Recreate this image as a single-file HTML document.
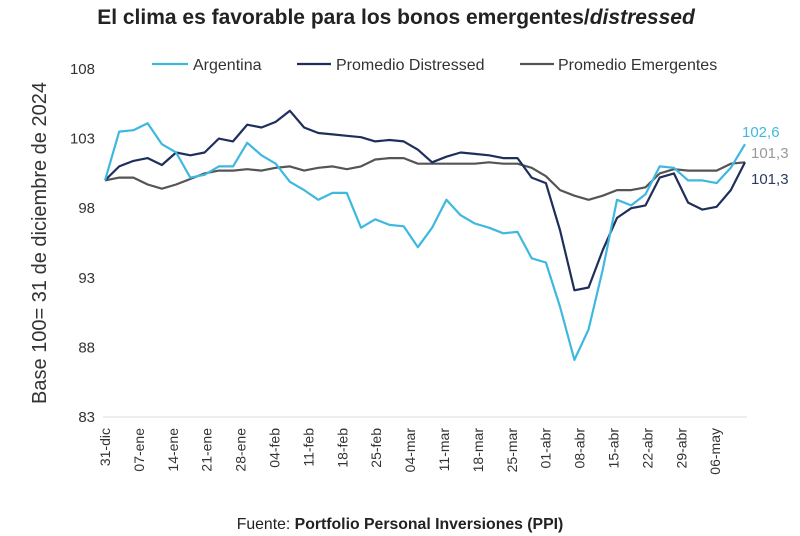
<!DOCTYPE html>
<html><head><meta charset="utf-8">
<style>
html,body{margin:0;padding:0;background:#fff;}
svg{display:block;font-family:"Liberation Sans",sans-serif;}
</style></head>
<body>
<svg id="chart" width="800" height="536" viewBox="0 0 800 536">
  <text x="396" y="24" text-anchor="middle" font-size="21" font-weight="bold" fill="#222">El clima es favorable para los bonos emergentes/<tspan font-style="italic">distressed</tspan></text>
  <g>
    <g><line x1="152" y1="64" x2="188" y2="64" stroke="#3fb8e0" stroke-width="2.2"/><text x="193" y="70" font-size="16" fill="#333">Argentina</text></g>
    <g><line x1="297" y1="64" x2="331" y2="64" stroke="#1f2f5c" stroke-width="2.2"/><text x="336" y="70" font-size="16" fill="#333">Promedio Distressed</text></g>
    <g><line x1="520" y1="64" x2="554" y2="64" stroke="#555" stroke-width="2.2"/><text x="558" y="70" font-size="16" fill="#333">Promedio Emergentes</text></g>
  </g>
  <text transform="translate(46,243) rotate(-90)" text-anchor="middle" font-size="20" fill="#333">Base 100= 31 de diciembre de 2024</text>
  <line x1="103" y1="417" x2="747" y2="417" stroke="#ddd" stroke-width="1"/>
  <g id="yticks"></g>
  <g id="xticks"></g>
  <g id="series"></g>
  <g>
    <text x="742" y="137" font-size="15" fill="#3fb8e0">102,6</text>
    <text x="751" y="158" font-size="15" fill="#999">101,3</text>
    <text x="751" y="184" font-size="15" fill="#2a3a60">101,3</text>
  </g>
  <text x="400" y="529" text-anchor="middle" font-size="15.8" fill="#222">Fuente: <tspan font-weight="bold">Portfolio Personal Inversiones (PPI)</tspan></text>
</svg>
<script>
const yTicks = [83, 88, 93, 98, 103, 108];
const xLabels = ["31-dic","07-ene","14-ene","21-ene","28-ene","04-feb","11-feb","18-feb","25-feb","04-mar","11-mar","18-mar","25-mar","01-abr","08-abr","15-abr","22-abr","29-abr","06-may"];
const argentina = [100.0,103.5,103.6,104.1,102.6,102.0,100.2,100.4,101.0,101.0,102.7,101.8,101.2,99.9,99.3,98.6,99.1,99.1,96.6,97.2,96.8,96.7,95.2,96.6,98.6,97.5,96.9,96.6,96.2,96.3,94.4,94.1,90.9,87.1,89.3,93.6,98.6,98.2,99.0,101.0,100.9,100.0,100.0,99.8,100.9,102.6];
const distressed = [100.0,101.0,101.4,101.6,101.1,102.0,101.8,102.0,103.0,102.8,104.0,103.8,104.2,105.0,103.8,103.4,103.3,103.2,103.1,102.8,102.9,102.8,102.2,101.3,101.7,102.0,101.9,101.8,101.6,101.6,100.2,99.8,96.4,92.1,92.3,95.0,97.3,98.0,98.2,100.2,100.5,98.4,97.9,98.1,99.3,101.3];
const emergentes = [100.0,100.2,100.2,99.7,99.4,99.7,100.1,100.5,100.7,100.7,100.8,100.7,100.9,101.0,100.7,100.9,101.0,100.8,101.0,101.5,101.6,101.6,101.2,101.2,101.2,101.2,101.2,101.3,101.2,101.2,100.9,100.3,99.3,98.9,98.6,98.9,99.3,99.3,99.5,100.5,100.8,100.7,100.7,100.7,101.2,101.3];

const NS = "http://www.w3.org/2000/svg";
const TOTAL_DAYS = 94.4; // business days spanned by series
function yScale(v){ return 417 - (v - 83) * (348 / 25); }
function xScale(d){ return 105 + d * 6.78; } // business-day index
function xWeek(w){ return xScale(w * 5); }

const yg = document.getElementById('yticks');
yTicks.forEach(t => {
  const tx = document.createElementNS(NS, 'text');
  
  
  tx.setAttribute('x', 95); tx.setAttribute('y', yScale(t) + 5);
  tx.setAttribute('text-anchor', 'end'); tx.setAttribute('font-size', '15'); tx.setAttribute('fill', '#333');
  tx.textContent = t; yg.appendChild(tx);
});
const xg = document.getElementById('xticks');
xLabels.forEach((l, i) => {
  const tx = document.createElementNS(NS, 'text');
  
  
  const x = xWeek(i) + 5;
  tx.setAttribute('transform', 'translate(' + x + ',428) rotate(-90)');
  tx.setAttribute('text-anchor', 'end'); tx.setAttribute('font-size', '14'); tx.setAttribute('fill', '#333');
  tx.textContent = l; xg.appendChild(tx);
});
const sg = document.getElementById('series');
function drawLine(vals, color, name){
  const step = TOTAL_DAYS / (vals.length - 1);
  const d = vals.map((v, i) => (i ? 'L' : 'M') + xScale(i * step).toFixed(1) + ',' + yScale(v).toFixed(1)).join(' ');
  const p = document.createElementNS(NS, 'path');
  
  
  p.setAttribute('d', d); p.setAttribute('fill', 'none'); p.setAttribute('stroke', color);
  p.setAttribute('stroke-width', '2.2'); p.setAttribute('stroke-linejoin', 'round');
  sg.appendChild(p);
}
drawLine(emergentes, '#555555', 'line-emergentes');
drawLine(distressed, '#1f2f5c', 'line-distressed');
drawLine(argentina, '#3fb8e0', 'line-argentina');
</script>
</body></html>
